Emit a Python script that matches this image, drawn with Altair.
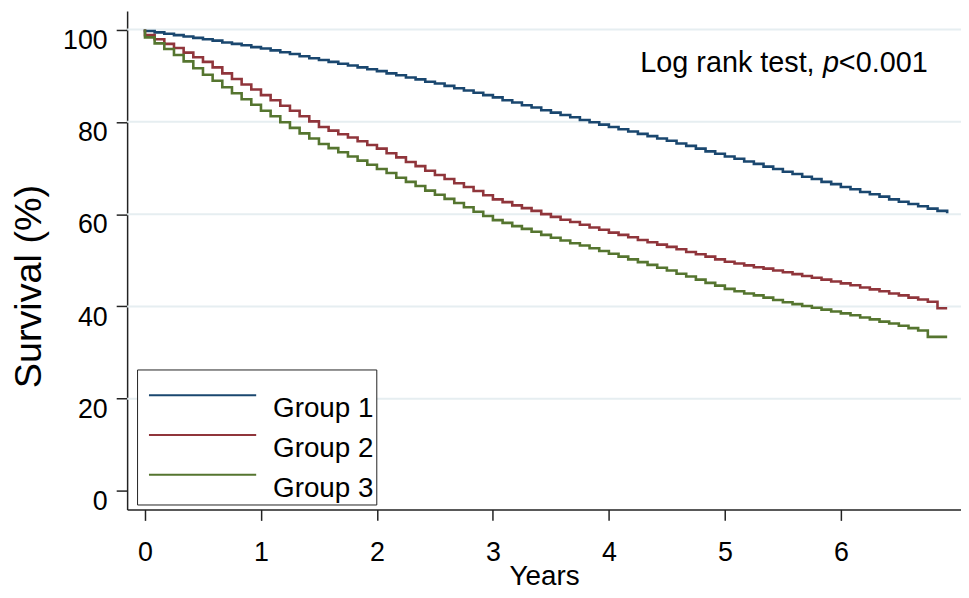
import altair as alt
import pandas as pd

# ---- data (monthly Kaplan-Meier steps) ----
months = list(range(84))

group1 = [99.7, 99.4, 99.1, 98.8, 98.5, 98.2, 97.9,
          97.6, 97.2, 96.9, 96.6, 96.2, 95.9,
          95.5, 95.1, 94.7, 94.2, 93.8, 93.4,
          93.0, 92.6, 92.2, 91.8, 91.4, 91.0,
          90.5, 90.1, 89.6, 89.2, 88.7, 88.3,
          87.8, 87.3, 86.8, 86.3, 85.8, 85.3,
          84.7, 84.2, 83.6, 83.1, 82.5, 82.0,
          81.5, 81.0, 80.4, 79.9, 79.4, 78.9,
          78.4, 77.9, 77.4, 76.9, 76.4, 75.9,
          75.3, 74.8, 74.2, 73.6, 73.1, 72.5,
          72.0, 71.4, 70.9, 70.3, 69.8, 69.2,
          68.7, 68.1, 67.6, 67.0, 66.5, 65.9,
          65.4, 64.8, 64.3, 63.8, 63.2, 62.7,
          62.2, 61.7, 61.2, 60.7, 60.2]

group2 = [98.8, 97.9, 96.9, 96.0, 95.0, 94.0, 93.0,
          91.8, 90.5, 89.3, 88.1, 87.0, 85.8,
          84.7, 83.5, 82.4, 81.2, 80.1, 78.9,
          78.1, 77.3, 76.6, 75.8, 75.0, 74.2,
          73.2, 72.3, 71.3, 70.4, 69.4, 68.5,
          67.6, 66.7, 65.9, 65.0, 64.1, 63.2,
          62.6, 61.9, 61.3, 60.7, 60.0, 59.4,
          58.8, 58.3, 57.7, 57.1, 56.6, 56.0,
          55.5, 55.0, 54.4, 53.9, 53.4, 52.9,
          52.4, 51.8, 51.3, 50.8, 50.2, 49.7,
          49.3, 48.9, 48.5, 48.2, 47.8, 47.4,
          47.0, 46.6, 46.2, 45.8, 45.4, 45.0,
          44.6, 44.1, 43.7, 43.3, 42.8, 42.4,
          41.9, 41.5, 41.0, 39.6, 39.6]

group3 = [98.3, 97.0, 95.8, 94.5, 93.1, 91.6, 90.2,
          88.9, 87.5, 86.2, 84.9, 83.7, 82.4,
          81.2, 79.9, 78.7, 77.5, 76.4, 75.2,
          74.3, 73.4, 72.5, 71.6, 70.7, 69.8,
          68.9, 67.9, 67.0, 66.1, 65.1, 64.2,
          63.3, 62.4, 61.5, 60.5, 59.6, 58.7,
          58.1, 57.4, 56.8, 56.2, 55.5, 54.9,
          54.3, 53.7, 53.2, 52.6, 52.0, 51.4,
          50.8, 50.2, 49.6, 49.0, 48.4, 47.8,
          47.1, 46.5, 45.8, 45.1, 44.5, 43.8,
          43.3, 42.8, 42.4, 41.9, 41.4, 40.9,
          40.5, 40.1, 39.7, 39.3, 38.9, 38.5,
          38.1, 37.6, 37.2, 36.7, 36.3, 35.8,
          35.3, 34.8, 33.4, 33.4, 33.4]

groups = ["Group 1", "Group 2", "Group 3"]
colors = ["#1a476f", "#90353b", "#55752f"]
x_ticks = [0, 1, 2, 3, 4, 5, 6]
y_ticks = [0, 20, 40, 60, 80, 100]
grid_vals = [20, 40, 60, 80, 100]
ann_texts = ["Log rank test, ", "p", "<0.001"]

rows = []
for g, vals in zip(groups, [group1, group2, group3]):
    rows.append({"group": g, "years": 0.0, "survival": 100.0, "ord": -1})
    for m, v in zip(months, vals):
        rows.append({"group": g, "years": m / 12.0, "survival": v, "ord": m})
df = pd.DataFrame(rows)

FONT = "Liberation Sans"
x_scale = alt.Scale(domain=[-0.154, 7.036], nice=False, zero=False)
y_scale = alt.Scale(domain=[-4, 104], nice=False, zero=False)

x_axis = alt.Axis(values=x_ticks, title="Years", grid=False, tickSize=11, tickWidth=1.5,
                  tickColor="#222222", domainColor="#222222", domainWidth=1.5,
                  labelFontSize=27, labelFont=FONT, labelColor="black", labelPadding=19,
                  titleFontSize=28, titleFont=FONT, titleFontWeight="normal",
                  titleColor="black", titlePadding=-2)
y_axis = alt.Axis(values=y_ticks, title="Survival (%)", grid=False, tickSize=11, tickWidth=1.5,
                  tickColor="#222222", domainColor="#222222", domainWidth=1.5,
                  labelFontSize=27, labelFont=FONT, labelColor="black", labelPadding=9,
                  labelOffset=11,
                  titleFontSize=38, titleFont=FONT, titleFontWeight="normal",
                  titleColor="black", titleX=-79, titleY=277, titleAngle=270,
                  titleBaseline="bottom", titleAlign="center")

X = alt.X("years:Q", scale=x_scale, axis=x_axis)
Y = alt.Y("survival:Q", scale=y_scale, axis=y_axis)

grid = alt.Chart(pd.DataFrame({"survival": grid_vals})).mark_rule(
    color="#e6eef1", strokeWidth=2
).encode(y=Y)

# blank (non-breaking space) legend title only reserves space inside the legend box
legend_spacer = "\u00a0" * 150

lines = alt.Chart(df).mark_line(interpolate="step-after", strokeWidth=2.6).encode(
    x=X,
    y=Y,
    order="ord:Q",
    color=alt.Color(
        "group:N",
        scale=alt.Scale(domain=groups, range=colors),
        legend=alt.Legend(
            title=legend_spacer, titleFontSize=6, titlePadding=6, titleLimit=600,
            orient="none", legendX=10, legendY=361, direction="vertical",
            symbolType="stroke", symbolSize=11664, symbolStrokeWidth=2, symbolOffset=9,
            labelFontSize=28, labelFont=FONT, labelColor="black", labelBaseline="top",
            labelOffset=16, labelLimit=400, clipHeight=24, rowPadding=0, padding=2,
            strokeColor="#222222", fillColor="white",
        ),
    ),
)

ann_df = pd.DataFrame({"years": [4.271], "survival": [90.8]})
ann1 = alt.Chart(ann_df).mark_text(
    text=ann_texts[0], align="left", baseline="alphabetic", fontSize=29, font=FONT, color="black"
).encode(x=X, y=Y)
ann2 = alt.Chart(ann_df).mark_text(
    text=ann_texts[1], align="left", baseline="alphabetic", fontSize=29, font=FONT,
    fontStyle="italic", color="black", dx=184
).encode(x=X, y=Y)
ann3 = alt.Chart(ann_df).mark_text(
    text=ann_texts[2], align="left", baseline="alphabetic", fontSize=29, font=FONT,
    color="black", dx=200
).encode(x=X, y=Y)

chart = alt.layer(grid, lines, ann1, ann2, ann3).properties(
    width=840, height=502,
    autosize=alt.AutoSizeParams(type="none"),
    padding={"left": 120, "top": 1, "right": 0, "bottom": 79},
    background="white",
).configure_view(stroke=None)

chart.save("out.html", embed_options={"renderer": "svg", "actions": False})
